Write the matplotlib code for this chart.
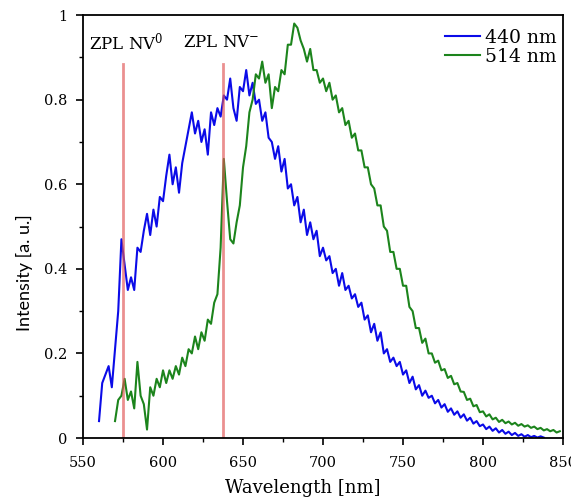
import numpy as np
import matplotlib
matplotlib.use("Agg")
import matplotlib.pyplot as plt
from matplotlib.ticker import MultipleLocator

plt.rcParams['font.family'] = ['DejaVu Serif']
plt.rcParams['mathtext.fontset'] = 'dejavuserif'

# ── data ─────────────────────────────────────────────────────────────────────
wl_440 = np.arange(560, 840, 2)
int_440 = [
    0.04, 0.13, 0.15, 0.17, 0.12,
    0.21, 0.30, 0.47, 0.41, 0.35,
    0.38, 0.35, 0.45, 0.44, 0.49,
    0.53, 0.48, 0.54, 0.50, 0.57,
    0.56, 0.62, 0.67, 0.60, 0.64,
    0.58, 0.65, 0.69, 0.73, 0.77,
    0.72, 0.75, 0.70, 0.73, 0.67,
    0.77, 0.74, 0.78, 0.76, 0.81,
    0.80, 0.85, 0.78, 0.75, 0.83,
    0.82, 0.87, 0.81, 0.84, 0.79,
    0.80, 0.75, 0.77, 0.71, 0.70,
    0.66, 0.69, 0.63, 0.66, 0.59,
    0.60, 0.55, 0.57, 0.51, 0.54,
    0.48, 0.51, 0.47, 0.49, 0.43,
    0.45, 0.42, 0.43, 0.39, 0.40,
    0.36, 0.39, 0.35, 0.36, 0.33,
    0.34, 0.31, 0.32, 0.28, 0.29,
    0.25, 0.27, 0.23, 0.25, 0.20,
    0.21, 0.18, 0.19, 0.17, 0.18,
    0.15, 0.16, 0.13, 0.145, 0.115,
    0.125, 0.10, 0.112, 0.095, 0.10,
    0.082, 0.09, 0.072, 0.08, 0.062,
    0.07, 0.055, 0.063, 0.048, 0.056,
    0.041, 0.048, 0.034, 0.04, 0.028,
    0.032, 0.021, 0.027, 0.017, 0.023,
    0.013, 0.019, 0.01, 0.015, 0.007,
    0.012, 0.005, 0.009, 0.003, 0.007,
    0.002, 0.005, 0.001, 0.004, 0.001,
]

wl_514 = np.arange(570, 850, 2)
int_514 = [
    0.04, 0.09, 0.10, 0.14, 0.09,
    0.11, 0.07, 0.18, 0.10, 0.08,
    0.02, 0.12, 0.10, 0.14, 0.12,
    0.16, 0.13, 0.16, 0.14, 0.17,
    0.15, 0.19, 0.17, 0.21, 0.20,
    0.24, 0.21, 0.25, 0.23, 0.28,
    0.27, 0.32, 0.34, 0.45, 0.66,
    0.56, 0.47, 0.46, 0.51, 0.55,
    0.64, 0.69, 0.77, 0.80, 0.86,
    0.85, 0.89, 0.84, 0.86, 0.78,
    0.83, 0.82, 0.87, 0.86, 0.93,
    0.93, 0.98, 0.97, 0.94, 0.92,
    0.89, 0.92, 0.87, 0.87, 0.84,
    0.85, 0.82, 0.84, 0.80, 0.81,
    0.77, 0.78, 0.74, 0.75, 0.71,
    0.72, 0.68, 0.68, 0.64, 0.64,
    0.60, 0.59, 0.55, 0.55, 0.50,
    0.49, 0.44, 0.44, 0.40, 0.40,
    0.36, 0.36, 0.31, 0.30, 0.26,
    0.26, 0.225, 0.235, 0.20, 0.20,
    0.178, 0.183, 0.16, 0.163, 0.142,
    0.147, 0.127, 0.13, 0.11, 0.109,
    0.09, 0.093, 0.075, 0.078, 0.061,
    0.063, 0.051, 0.056, 0.044, 0.048,
    0.038, 0.043, 0.035, 0.039, 0.032,
    0.036, 0.029, 0.033, 0.027, 0.03,
    0.024, 0.027, 0.021, 0.024, 0.018,
    0.021, 0.016, 0.019, 0.013, 0.016,
]

zpl_wl = [575, 637.5]
zpl_labels = ['ZPL NV$^{0}$', 'ZPL NV$^{-}$']
zpl_text_x = [554, 612.5]

# ── figure ───────────────────────────────────────────────────────────────────
fig = plt.figure(figsize=(5.71, 5.03), dpi=100)
ax = fig.add_axes([0.1454, 0.1292, 0.8406, 0.8408])

ax.plot(wl_440, int_440, color='#0b0be8', lw=1.5, label='440 nm')
ax.plot(wl_514, int_514, color='#1c841c', lw=1.5, label='514 nm')

# zero-phonon line markers
for x in zpl_wl:
    ax.axvline(x, ymin=0, ymax=0.885, color='#e05555', lw=2.0, alpha=0.65)
for tx, lab in zip(zpl_text_x, zpl_labels):
    ax.text(tx, 0.935, lab, fontsize=12, va='center', ha='left')

ax.set_xlim(550, 850)
ax.set_ylim(0, 1)
ax.xaxis.set_major_locator(MultipleLocator(50))
ax.xaxis.set_minor_locator(MultipleLocator(25))
ax.yaxis.set_minor_locator(MultipleLocator(0.1))
ax.set_yticks([0, 0.2, 0.4, 0.6, 0.8, 1.0])
ax.set_yticklabels(['0', '0.2', '0.4', '0.6', '0.8', '1'])
ax.tick_params(which='major', direction='out', length=5, width=1.2, labelsize=10.5)
ax.tick_params(axis='x', which='major', pad=8)
ax.tick_params(axis='y', which='major', pad=6)
ax.tick_params(which='minor', direction='out', length=3, width=1.0)
for s in ax.spines.values():
    s.set_linewidth(1.3)

ax.set_xlabel('Wavelength [nm]', fontsize=13)
ax.xaxis.set_label_coords(0.458, -0.097)
ax.set_ylabel('Intensity [a. u.]', fontsize=13, family=['Lato', 'DejaVu Sans'])
ax.yaxis.set_label_coords(-0.104, 0.39)

ax.legend(loc='upper right', bbox_to_anchor=(1.0, 0.983), frameon=False,
          fontsize=13.5, handlelength=1.9, handletextpad=0.25,
          labelspacing=0.05, borderaxespad=0.15, borderpad=0.2)

fig.savefig('out.png', dpi=100)
